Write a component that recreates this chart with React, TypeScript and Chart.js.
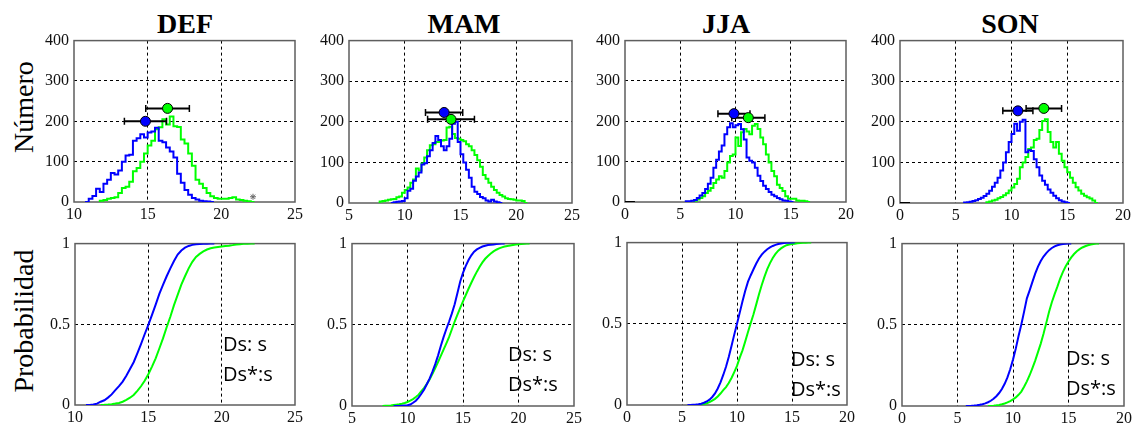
import React, { useEffect, useRef } from "react";
import { Chart, registerables } from "chart.js";

Chart.register(...registerables);

// ---------- data ----------
const SEASONS = ["DEF", "MAM", "JJA", "SON"];
const BIN_WIDTH = 0.25;

const X_MIN = [10, 5, 0, 0];
const X_MAX = [25, 25, 20, 20];
const COUNT_TICKS_MAX = 400;
const COUNT_STEP = 100;
const PROB_STEP = 0.5;

const BLUE_STARTS = [10.75, 8.75, 5.5, 5.75];
const GREEN_STARTS = [11.75, 7.75, 6.25, 7.75];

const DEF_BLUE = [0, 8, 15, 33, 25, 45, 55, 72, 68, 78, 100, 115, 117, 152, 158, 168, 160, 172, 175, 184, 152, 148, 135, 125, 110, 70, 48, 30, 18, 10, 6, 3, 2, 1, 0];
const DEF_GREEN = [3, 5, 8, 10, 12, 22, 35, 38, 50, 76, 84, 100, 120, 140, 152, 180, 185, 205, 192, 212, 188, 186, 155, 145, 120, 90, 55, 45, 35, 22, 14, 10, 8, 8, 8, 10, 12, 6, 5, 3, 2, 0];
const MAM_BLUE = [0, 2, 3, 4, 5, 12, 30, 35, 55, 65, 75, 95, 98, 115, 130, 148, 165, 155, 140, 130, 140, 158, 195, 200, 150, 120, 100, 82, 62, 40, 28, 22, 15, 12, 6, 4, 8, 4, 2, 0];
const MAM_GREEN = [4, 5, 6, 8, 9, 10, 14, 16, 25, 32, 38, 50, 58, 85, 80, 97, 112, 130, 142, 145, 150, 150, 154, 155, 186, 188, 170, 160, 158, 155, 152, 145, 140, 130, 118, 105, 89, 69, 60, 50, 40, 32, 25, 20, 16, 12, 10, 9, 8, 6, 6, 5, 0];
const JJA_BLUE = [2, 2, 3, 5, 10, 16, 22, 32, 45, 60, 85, 105, 125, 140, 168, 185, 195, 185, 190, 193, 180, 155, 110, 102, 98, 85, 65, 52, 40, 32, 25, 18, 14, 10, 7, 4, 3, 1, 0];
const JJA_GREEN = [3, 6, 10, 14, 22, 28, 35, 47, 56, 64, 60, 77, 98, 114, 118, 160, 139, 173, 181, 175, 168, 189, 193, 181, 160, 143, 118, 98, 77, 64, 43, 35, 27, 14, 8, 8, 8, 4, 3, 3, 2, 0];
const SON_BLUE = [1, 2, 3, 5, 7, 10, 13, 17, 23, 30, 40, 50, 62, 80, 100, 125, 150, 170, 195, 178, 200, 205, 125, 130, 128, 108, 88, 68, 55, 45, 33, 25, 18, 12, 7, 4, 2, 0];
const SON_GREEN = [2, 4, 6, 8, 12, 15, 19, 24, 31, 38, 47, 60, 88, 100, 113, 133, 137, 155, 158, 180, 202, 206, 175, 150, 137, 150, 121, 104, 88, 76, 62, 50, 39, 31, 23, 18, 14, 11, 6, 0];

const BLUE_COUNTS = [DEF_BLUE, MAM_BLUE, JJA_BLUE, SON_BLUE];
const GREEN_COUNTS = [DEF_GREEN, MAM_GREEN, JJA_GREEN, SON_GREEN];

const BLUE_MEAN = [14.85, 13.53, 9.86, 10.57];
const BLUE_MARK_Y = [200, 223, 219, 227];
const BLUE_SPREAD = [1.43, 1.67, 1.45, 1.35];
const GREEN_MEAN = [16.35, 14.15, 11.16, 12.9];
const GREEN_MARK_Y = [232, 206, 209, 233];
const GREEN_SPREAD = [1.48, 2.1, 1.5, 1.59];

const DEF_STAR_X = [22.15];
const DEF_STAR_Y = [13];
const ZERO_LINE_X = [0, 0.9];
const ZERO_LINE_SEASONS = ["JJA", "SON"];

const STAT_LINES = ["Ds: s", "Ds*:s"];
const ROW_LABELS = ["Número", "Probabilidad"];

// ---------- layout & style ----------
const W = 1141;
const H = 428;
const PADL = 46;
const PADT = 14;
const PADR = 16;
const PADB = 26;
const TOP_RECTS = [
  [74, 40, 221, 162],
  [349, 40, 223, 163],
  [625, 40, 221, 162],
  [900, 40, 223, 163],
];
const BOTTOM_RECTS = [
  [75, 243, 220, 162],
  [352, 243, 222, 163],
  [627, 242, 220, 163],
  [902, 243, 222, 163],
];
const TITLE_POS = [
  [185, 10],
  [464, 10],
  [726, 10],
  [1010, 10],
];
const STAT_POS = [
  [223, 334],
  [508, 344],
  [791, 349],
  [1066, 348],
];
const STAT_GAP = 30;
const BLUE = "#0000ff";
const GREEN = "#00ff00";
const SERIF = "'Liberation Serif', 'Times New Roman', serif";

function histPoints(start: number, counts: number[]) {
  const pts = [{ x: start, y: 0 }];
  counts.forEach((c, i) => pts.push({ x: start + i * BIN_WIDTH, y: c }));
  pts.push({ x: start + counts.length * BIN_WIDTH, y: 0 });
  return pts;
}

function cdfPoints(start: number, counts: number[]) {
  const total = counts.reduce((a, b) => a + b, 0);
  const pts = [{ x: start, y: 0 }];
  let cum = 0;
  counts.forEach((c, i) => {
    cum += c;
    pts.push({ x: start + (i + 1) * BIN_WIDTH, y: cum / total });
  });
  return pts;
}

const framePlugin = {
  id: "frame",
  beforeDatasetsDraw(chart: any) {
    const { ctx, chartArea: a } = chart;
    ctx.save();
    ctx.strokeStyle = "#5e5e5e";
    ctx.lineWidth = 1.5;
    ctx.strokeRect(a.left, a.top, a.right - a.left, a.bottom - a.top);
    ctx.restore();
  },
};

function axis(min: number, max: number, step: number, isX: boolean) {
  return {
    type: "linear",
    min,
    max,
    afterFit: (s: any) => {
      if (isX) s.height = PADB;
      else s.width = PADL;
    },
    ticks: {
      stepSize: step,
      autoSkip: false,
      padding: isX ? 3 : 5,
      color: "#111",
      font: { family: SERIF, size: 16 },
      callback: (v: any) => String(v),
    },
    grid: {
      drawTicks: false,
      lineWidth: 1,
      color: (c: any) =>
        c.tick && (c.tick.value === min || c.tick.value === max) ? "rgba(0,0,0,0)" : "#000",
    },
    border: { display: false, dash: [3, 3] },
  };
}

function buildConfig(i: number, row: number) {
  const datasets: any[] = [];
  const line = (data: any[], color: string, stepped: boolean) => ({
    data,
    showLine: true,
    stepped,
    borderColor: color,
    borderWidth: 2,
    pointRadius: 0,
    fill: false,
  });
  if (row === 0) {
    const marks = [
      [BLUE_MEAN[i], BLUE_MARK_Y[i], BLUE_SPREAD[i], BLUE],
      [GREEN_MEAN[i], GREEN_MARK_Y[i], GREEN_SPREAD[i], GREEN],
    ] as [number, number, number, string][];
    marks.forEach(([m, y, , c]) =>
      datasets.push({
        data: [{ x: m, y }],
        pointStyle: "circle",
        pointRadius: 5,
        pointBackgroundColor: c,
        pointBorderColor: "#000",
        pointBorderWidth: 1,
      })
    );
    marks.forEach(([m, y, e]) =>
      datasets.push({
        data: [
          { x: m - e, y },
          { x: m + e, y },
        ],
        showLine: true,
        borderColor: "#000",
        borderWidth: 2,
        pointStyle: "line",
        pointRadius: 3.5,
        pointRotation: 90,
        pointBorderColor: "#000",
        pointBorderWidth: 1.5,
      })
    );
    if (SEASONS[i] === "DEF") {
      datasets.push({
        data: DEF_STAR_X.map((x, k) => ({ x, y: DEF_STAR_Y[k] })),
        pointStyle: "star",
        pointRadius: 3,
        pointBorderColor: "#666",
        pointBorderWidth: 1,
      });
    }
    if (ZERO_LINE_SEASONS.includes(SEASONS[i])) {
      datasets.push(line(ZERO_LINE_X.map((x) => ({ x, y: 0 })), "#000", false));
    }
    datasets.push(line(histPoints(BLUE_STARTS[i], BLUE_COUNTS[i]), BLUE, true));
    datasets.push(line(histPoints(GREEN_STARTS[i], GREEN_COUNTS[i]), GREEN, true));
  } else {
    datasets.push(line(cdfPoints(BLUE_STARTS[i], BLUE_COUNTS[i]), BLUE, false));
    datasets.push(line(cdfPoints(GREEN_STARTS[i], GREEN_COUNTS[i]), GREEN, false));
  }
  return {
    type: "scatter",
    data: { datasets },
    options: {
      responsive: false,
      animation: false,
      events: [],
      layout: { autoPadding: false, padding: { left: 0, top: PADT, right: PADR, bottom: 0 } },
      plugins: { legend: { display: false }, tooltip: { enabled: false } },
      scales: {
        x: axis(X_MIN[i], X_MAX[i], 5, true),
        y:
          row === 0
            ? axis(0, COUNT_TICKS_MAX, COUNT_STEP, false)
            : axis(0, 1, PROB_STEP, false),
      },
    },
    plugins: [framePlugin],
  } as any;
}

function Panel({ i, row }: { i: number; row: number }) {
  const ref = useRef<HTMLCanvasElement>(null);
  const r = row === 0 ? TOP_RECTS[i] : BOTTOM_RECTS[i];
  const cw = r[2] + PADL + PADR;
  const ch = r[3] + PADT + PADB;
  useEffect(() => {
    const chart = new Chart(ref.current as HTMLCanvasElement, buildConfig(i, row));
    return () => chart.destroy();
  }, [i, row]);
  return (
    <canvas
      ref={ref}
      width={cw}
      height={ch}
      style={{ position: "absolute", left: r[0] - PADL, top: r[1] - PADT, width: cw, height: ch }}
    />
  );
}

export default function App() {
  return (
    <div
      style={{
        position: "fixed",
        left: 0,
        top: 0,
        width: W,
        height: H,
        background: "#fff",
        overflow: "hidden",
      }}
    >
      {SEASONS.map((s, i) => (
        <div
          key={"t" + s}
          style={{
            position: "absolute",
            left: TITLE_POS[i][0],
            top: TITLE_POS[i][1],
            transform: "translateX(-50%)",
            fontFamily: SERIF,
            fontWeight: "bold",
            fontSize: 28,
            lineHeight: "28px",
            whiteSpace: "nowrap",
            color: "#000",
          }}
        >
          {s}
        </div>
      ))}
      {ROW_LABELS.map((t, k) => (
        <div
          key={"r" + k}
          style={{
            position: "absolute",
            left: 24,
            top: k === 0 ? 106.5 : 321,
            transform: "translate(-50%, -50%) rotate(-90deg)",
            fontFamily: SERIF,
            fontSize: 28,
            lineHeight: "28px",
            whiteSpace: "nowrap",
            color: "#000",
          }}
        >
          {t}
        </div>
      ))}
      {SEASONS.map((s, i) => (
        <React.Fragment key={"p" + s}>
          <Panel i={i} row={0} />
          <Panel i={i} row={1} />
        </React.Fragment>
      ))}
      {SEASONS.map((s, i) =>
        STAT_LINES.map((t, k) => (
          <div
            key={"s" + s + k}
            style={{
              position: "absolute",
              left: STAT_POS[i][0],
              top: STAT_POS[i][1] + k * STAT_GAP,
              fontFamily: "'Open Sans', 'Noto Sans', sans-serif",
              fontSize: 20,
              lineHeight: "20px",
              whiteSpace: "nowrap",
              color: "#000",
            }}
          >
            {t}
          </div>
        ))
      )}
    </div>
  );
}
